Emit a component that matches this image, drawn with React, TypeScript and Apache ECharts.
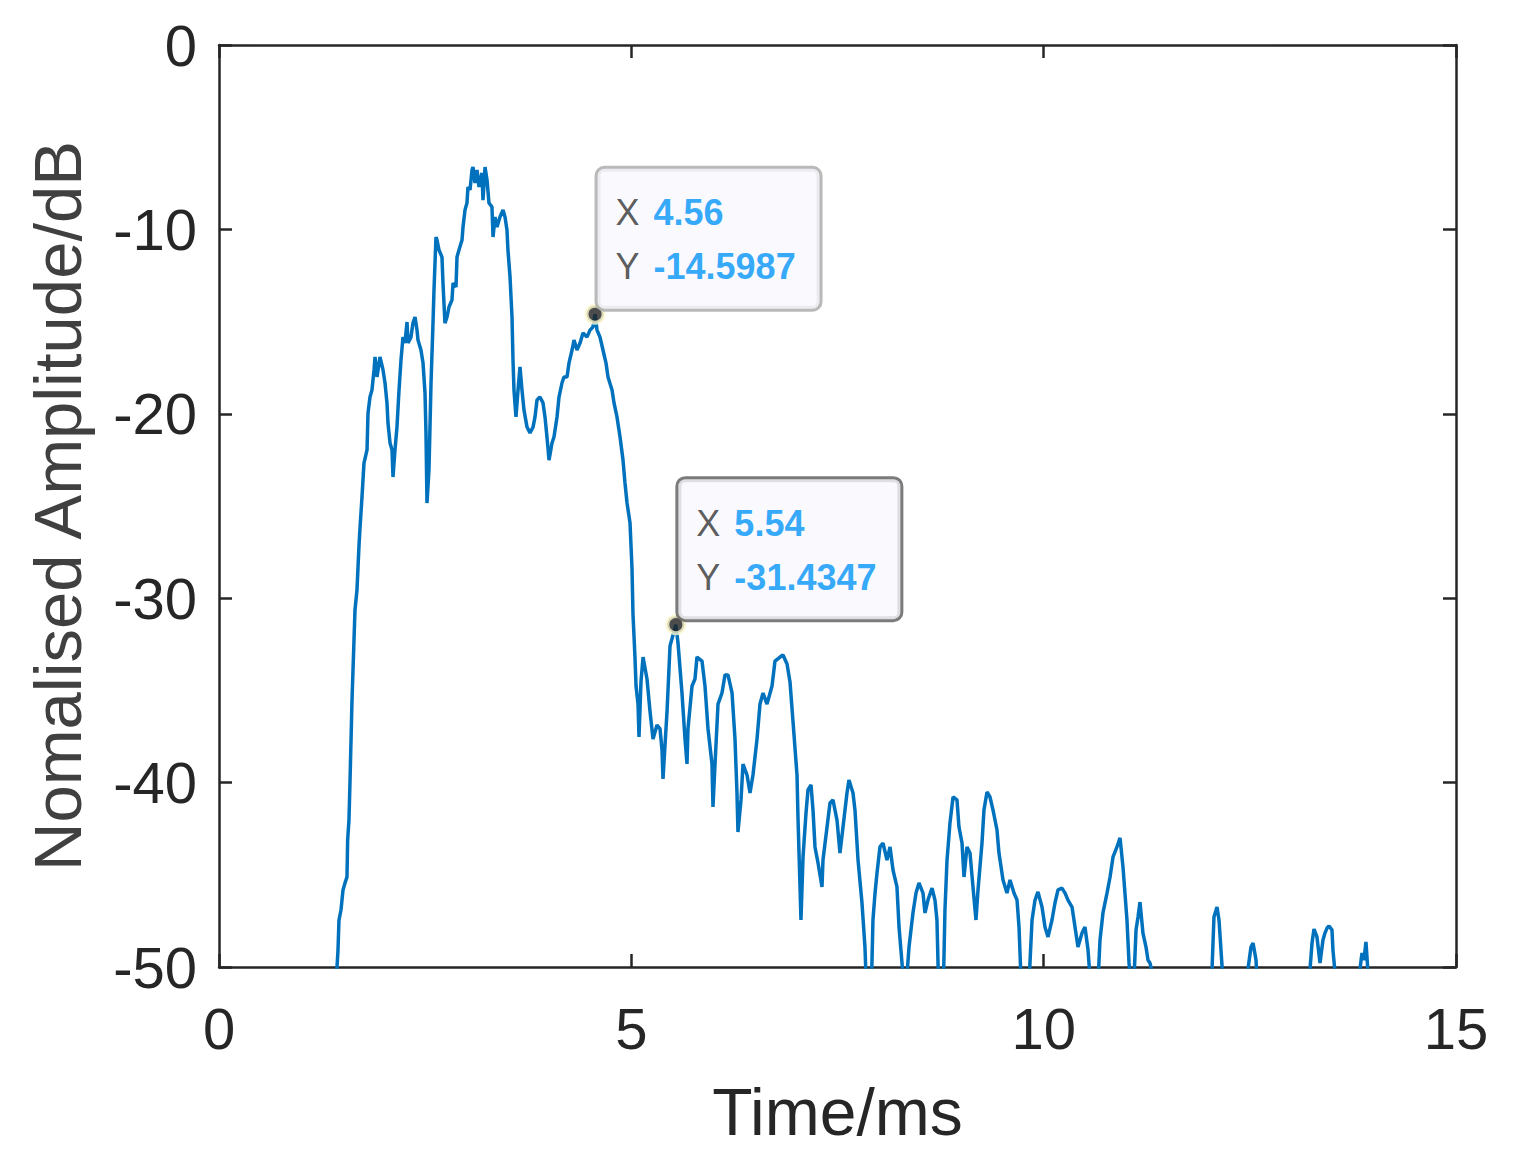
import React, { useEffect, useRef } from "react";
import * as echarts from "echarts";

// Time axis (ms) and normalised amplitude (dB)
const timeMs: number[] = [
  1.40, 1.431, 1.443, 1.455, 1.479, 1.504, 1.528, 1.552, 1.560, 1.576, 1.589, 1.613, 1.637, 1.649, 1.673, 1.698,
  1.710, 1.734, 1.758, 1.795, 1.807, 1.831, 1.855, 1.880, 1.892, 1.916, 1.952, 1.989, 2.013, 2.037, 2.049, 2.074,
  2.098, 2.110, 2.134, 2.158, 2.183, 2.207, 2.231, 2.255, 2.280, 2.292, 2.328, 2.352, 2.377, 2.401, 2.413, 2.449,
  2.474, 2.498, 2.510, 2.522, 2.546, 2.571, 2.595, 2.607, 2.631, 2.643, 2.668, 2.704, 2.716, 2.740, 2.765, 2.789,
  2.825, 2.838, 2.874, 2.886, 2.910, 2.947, 2.959, 2.983, 3.007, 3.019, 3.044, 3.068, 3.080, 3.104, 3.129, 3.153,
  3.189, 3.201, 3.226, 3.250, 3.274, 3.310, 3.323, 3.347, 3.371, 3.407, 3.444, 3.468, 3.492, 3.504, 3.529, 3.553,
  3.565, 3.577, 3.601, 3.626, 3.650, 3.674, 3.698, 3.735, 3.771, 3.808, 3.832, 3.856, 3.892, 3.929, 3.953, 3.977,
  4.002, 4.038, 4.062, 4.099, 4.123, 4.159, 4.183, 4.220, 4.244, 4.281, 4.305, 4.341, 4.378, 4.414, 4.462, 4.499,
  4.535, 4.56, 4.584, 4.620, 4.656, 4.693, 4.717, 4.766, 4.790, 4.826, 4.863, 4.899, 4.923, 4.948, 4.984, 5.008,
  5.020, 5.044, 5.057, 5.081, 5.093, 5.117, 5.142, 5.190, 5.226, 5.263, 5.311, 5.348, 5.372, 5.384, 5.433, 5.469,
  5.54, 5.566, 5.614, 5.651, 5.675, 5.687, 5.736, 5.772, 5.796, 5.857, 5.893, 5.930, 5.978, 5.990, 6.015, 6.051,
  6.099, 6.136, 6.172, 6.221, 6.257, 6.281, 6.293, 6.330, 6.354, 6.403, 6.439, 6.475, 6.524, 6.560, 6.597, 6.645,
  6.706, 6.742, 6.803, 6.839, 6.888, 6.924, 6.960, 7.009, 7.021, 7.057, 7.082, 7.118, 7.142, 7.179, 7.203, 7.227,
  7.264, 7.312, 7.324, 7.373, 7.409, 7.445, 7.494, 7.530, 7.567, 7.615, 7.639, 7.688, 7.712, 7.749, 7.797, 7.833,
  7.858, 7.906, 7.930, 7.955, 7.979, 8.015, 8.052, 8.100, 8.137, 8.173, 8.221, 8.246, 8.282, 8.318, 8.367, 8.415,
  8.452, 8.488, 8.537, 8.561, 8.597, 8.646, 8.682, 8.706, 8.731, 8.779, 8.803, 8.828, 8.864, 8.901, 8.949, 8.973,
  9.010, 9.034, 9.070, 9.107, 9.143, 9.179, 9.204, 9.252, 9.276, 9.313, 9.349, 9.386, 9.434, 9.458, 9.507, 9.555,
  9.592, 9.640, 9.677, 9.701, 9.737, 9.810, 9.859, 9.895, 9.931, 9.980, 10.016, 10.053, 10.101, 10.137, 10.174, 10.222,
  10.259, 10.295, 10.344, 10.380, 10.416, 10.465, 10.501, 10.538, 10.586, 10.647, 10.683, 10.719, 10.768, 10.805, 10.841, 10.889,
  10.926, 10.962, 11.010, 11.035, 11.083, 11.120, 11.144, 11.168, 11.204, 11.241, 11.265, 11.289, 11.326, 11.6, 12.0, 12.041,
  12.065, 12.102, 12.126, 12.162, 12.2, 12.45, 12.478, 12.514, 12.539, 12.575, 12.6, 13.2, 13.230, 13.254, 13.278, 13.314,
  13.351, 13.387, 13.411, 13.436, 13.460, 13.496, 13.508, 13.533, 13.56, 13.81, 13.836, 13.860, 13.884, 13.908, 13.933, 13.96,
];

const amplitudeDb: number[] = [
  -56, -50.0, -49.08, -47.45, -46.91, -45.82, -45.44, -45.12, -43.11, -42.03, -39.86, -35.52, -32.27, -30.64, -29.56, -27.11,
  -26.19, -24.51, -22.67, -21.96, -19.96, -19.09, -18.71, -17.62, -16.92, -18.0, -16.92, -17.62, -18.33, -19.41, -20.5, -21.58,
  -21.96, -23.43, -21.96, -20.72, -18.71, -17.08, -15.84, -16.16, -15.02, -16.16, -15.84, -15.08, -14.75, -15.46, -16.0, -16.54,
  -17.25, -18.87, -21.04, -24.84, -23.05, -18.33, -15.08, -13.29, -10.41, -10.57, -11.12, -11.5, -12.91, -15.08, -14.75, -14.21,
  -13.83, -12.91, -13.12, -11.5, -11.12, -10.57, -9.87, -8.95, -8.57, -7.7, -7.86, -6.78, -6.62, -7.48, -6.78, -7.7,
  -6.94, -8.41, -6.62, -7.32, -8.57, -8.79, -10.41, -9.33, -9.87, -9.33, -8.95, -9.33, -10.03, -11.12, -12.58, -14.75,
  -17.08, -18.71, -20.17, -18.71, -17.46, -18.71, -19.79, -20.72, -21.04, -20.72, -20.17, -19.25, -19.09, -19.41, -20.17, -21.26,
  -22.51, -21.58, -21.26, -20.17, -19.09, -18.33, -18.0, -18.0, -17.25, -16.54, -16.0, -16.54, -16.16, -15.62, -15.84, -15.46,
  -15.29, -14.5987, -15.46, -15.84, -16.54, -17.25, -18.0, -18.71, -19.41, -20.17, -21.26, -22.51, -23.75, -24.84, -25.92, -28.36,
  -30.86, -33.19, -34.76, -35.74, -37.53, -34.54, -33.19, -34.38, -36.12, -37.64, -36.88, -37.09, -38.23, -39.8, -36.12, -32.59,
  -31.4347, -32.43, -35.14, -37.64, -38.99, -37.09, -34.76, -34.38, -33.19, -33.41, -34.76, -37.09, -38.99, -41.32, -38.99, -35.74,
  -35.14, -34.16, -34.16, -35.14, -37.64, -40.56, -42.68, -40.94, -38.99, -39.59, -40.56, -39.59, -37.64, -35.74, -35.14, -35.74,
  -34.76, -33.41, -33.19, -33.08, -33.57, -34.54, -36.66, -39.59, -41.92, -47.45, -44.03, -41.65, -40.4, -40.13, -41.49, -43.49,
  -44.36, -45.66, -44.2, -42.41, -41.11, -40.94, -42.03, -43.82, -42.41, -40.56, -39.86, -40.56, -41.49, -44.2, -46.53, -48.92,
  -52, -52, -47.45, -46.0, -44.9, -43.49, -43.28, -44.2, -43.49, -44.74, -45.66, -47.83, -49.78, -52, -48.92, -47.07,
  -45.99, -45.44, -45.99, -47.07, -46.37, -45.72, -46.37, -47.45, -52, -52, -46.91, -44.2, -42.19, -40.78, -40.94, -42.41,
  -43.28, -45.12, -43.49, -43.82, -45.66, -47.45, -45.82, -43.28, -41.49, -40.51, -40.78, -41.49, -42.57, -43.82, -45.28, -45.99,
  -45.28, -45.99, -46.37, -47.83, -52, -52, -47.45, -46.37, -45.93, -46.75, -47.83, -48.37, -47.45, -46.53, -45.82, -45.72,
  -45.99, -46.37, -46.75, -47.83, -48.92, -48.16, -47.83, -49.08, -52, -52, -48.54, -47.07, -45.99, -45.12, -44.03, -43.49,
  -43.0, -44.58, -47.45, -49.78, -52, -47.99, -47.29, -46.48, -48.16, -48.92, -49.62, -49.78, -50.5, -56, -55, -50.2,
  -47.29, -46.75, -47.45, -49.89, -53, -53, -50.1, -48.92, -48.7, -49.62, -52, -53, -50.1, -48.7, -47.94, -48.37,
  -49.78, -48.54, -48.16, -47.89, -47.78, -47.99, -49.08, -50.3, -52, -52, -50.1, -49.24, -49.62, -48.64, -50.3, -53,
];

// Data tips
const tipTimes: number[] = [4.56, 5.54];
const tipValues: number[] = [-14.5987, -31.4347];
const tipXLabels: string[] = ["4.56", "5.54"];
const tipYLabels: string[] = ["-14.5987", "-31.4347"];

const xTicks = { min: 0, max: 15, interval: 5 };
const yTicks = { min: -50, max: 0, interval: 10 };

const FONT = "'Liberation Sans', Arial, Helvetica, sans-serif";
const AXIS_COLOR = "#262626";

export default function App() {
  const ref = useRef<HTMLDivElement>(null);

  useEffect(() => {
    if (!ref.current) return;
    const chart = echarts.init(ref.current, undefined, { renderer: "svg" });

    const lineData = timeMs.map((t, i) => [t, amplitudeDb[i]]);
    const tipBorders = ["#a8a8a8", "#5a5a5a"];
    const tipData = tipTimes.map((t, i) => ({
      value: [t, tipValues[i]],
      label: {
        show: true,
        position: [13, 5],
        align: "left",
        verticalAlign: "bottom",
        formatter: `{k|X}{v|${tipXLabels[i]}}\n{k|Y}{v|${tipYLabels[i]}}`,
        backgroundColor: "#f9f9fe",
        borderColor: tipBorders[i],
        borderWidth: 3,
        borderRadius: 7,
        padding: [17, 16, 15, 18],
        width: 188,
        rich: {
          k: { fontFamily: FONT, fontSize: 36, color: "#333333", lineHeight: 54, padding: [0, 14, 0, 0] },
          v: { fontFamily: FONT, fontSize: 36, fontWeight: "bold", color: "#0093f8", lineHeight: 54 },
        },
      },
    }));

    const axisCommon = {
      type: "value" as const,
      axisLine: { show: true, onZero: false, lineStyle: { color: AXIS_COLOR, width: 2.5 } },
      axisTick: { show: true, inside: true, length: 13, lineStyle: { color: AXIS_COLOR, width: 2.5 } },
      splitLine: { show: false },
    };

    chart.setOption({
      animation: false,
      backgroundColor: "#ffffff",
      grid: { left: 219, right: 58, top: 45, bottom: 193, containLabel: false },
      xAxis: [
        {
          ...axisCommon,
          position: "bottom",
          ...xTicks,
          name: "Time/ms",
          nameLocation: "middle",
          nameGap: 112,
          nameTextStyle: { fontFamily: FONT, fontSize: 66, color: AXIS_COLOR },
          axisLabel: { show: true, margin: 32, fontFamily: FONT, fontSize: 58, color: AXIS_COLOR },
        },
        {
          ...axisCommon,
          position: "top",
          ...xTicks,
          axisLabel: { show: false },
        },
      ],
      yAxis: [
        {
          ...axisCommon,
          position: "left",
          ...yTicks,
          name: "Nomalised Amplitude/dB",
          nameLocation: "middle",
          nameGap: 128,
          nameTextStyle: { fontFamily: FONT, fontSize: 67, color: "#404040" },
          axisLabel: { show: true, margin: 22, fontFamily: FONT, fontSize: 58, color: AXIS_COLOR },
        },
        {
          ...axisCommon,
          position: "right",
          ...yTicks,
          axisLabel: { show: false },
        },
      ],
      series: [
        {
          type: "line",
          xAxisIndex: 0,
          yAxisIndex: 0,
          data: lineData,
          showSymbol: false,
          symbol: "none",
          clip: true,
          lineStyle: { color: "#0072bd", width: 3.5 },
          z: 2,
        },
        {
          type: "scatter",
          xAxisIndex: 0,
          yAxisIndex: 0,
          data: tipData,
          symbol: "circle",
          symbolSize: 17,
          itemStyle: { color: "#1f1f1f", borderColor: "#fbf7cf", borderWidth: 4 },
          z: 5,
        },
      ],
    });

    return () => chart.dispose();
  }, []);

  return (
    <div
      ref={ref}
      style={{ position: "absolute", left: 0, top: 0, width: 1514, height: 1160, background: "#fff" }}
    />
  );
}
